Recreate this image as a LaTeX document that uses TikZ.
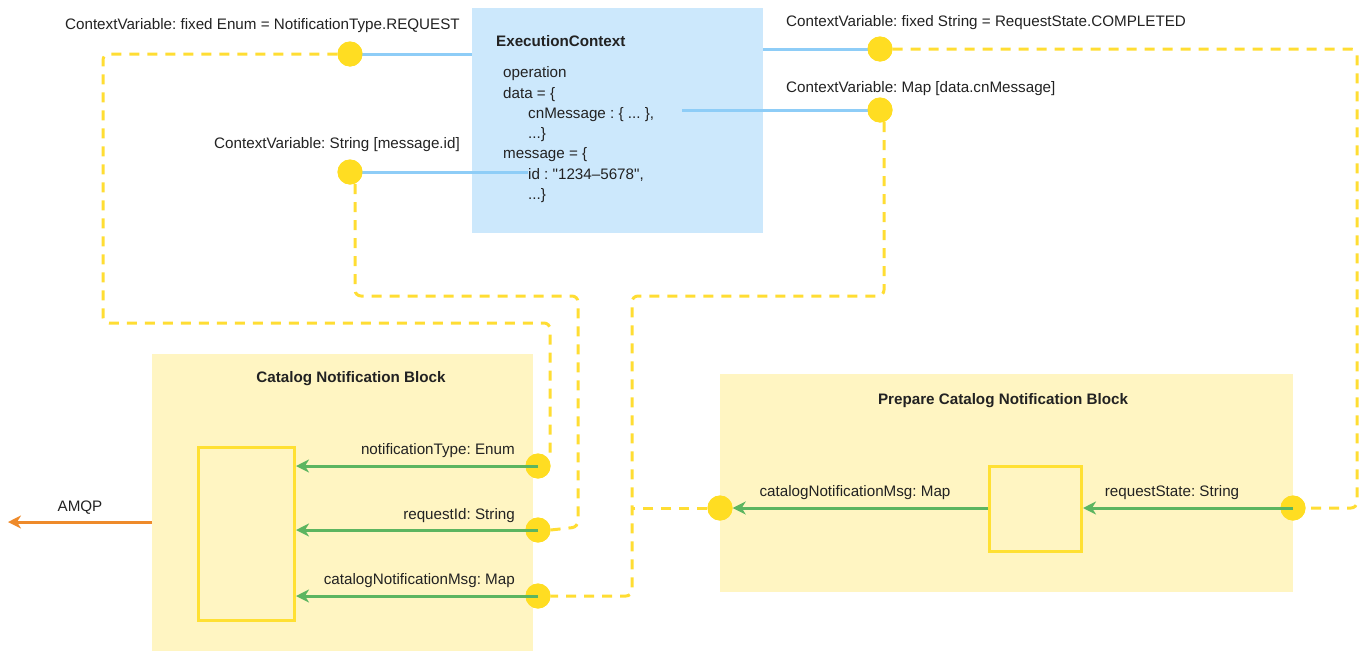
\documentclass[tikz,border=0pt]{standalone}
\usepackage{fontspec}
\setmainfont{Liberation Sans}[Ligatures=TeXOff]
\usetikzlibrary{arrows.meta}
\frenchspacing
\definecolor{ecfill}{HTML}{CCE8FC}
\definecolor{ecline}{HTML}{8ECDF7}
\definecolor{dot}{HTML}{FFDD22}
\definecolor{dashc}{HTML}{FFDD33}
\definecolor{blockfill}{HTML}{FFF5C2}
\definecolor{innerline}{HTML}{FFE033}
\definecolor{grn}{HTML}{5CB560}
\definecolor{org}{HTML}{EE8A2A}
\definecolor{txt}{HTML}{222222}
\tikzset{
  lbl/.style={inner sep=0pt, text=txt, yshift=-1.5pt, font=\fontsize{15.2}{17}\selectfont},
  ttl/.style={inner sep=0pt, text=txt, yshift=-1.5pt, font=\fontsize{15.2}{17}\selectfont\bfseries},
  port/.style={circle, fill=dot, draw=none, minimum size=25pt, inner sep=0pt},
  ctxline/.style={draw=ecline, line width=3pt},
  wire/.style={draw=dashc, line width=3pt, dash pattern=on 10pt off 8pt, rounded corners=6pt},
  flow/.style={draw=grn, line width=3pt, -{Stealth[length=13pt,width=13pt,inset=4pt]}},
  block/.style={fill=blockfill, draw=none, anchor=north west, inner sep=0pt},
  innerbox/.style={fill=blockfill, draw=innerline, line width=3pt, anchor=north west, inner sep=0pt},
}
\begin{document}
\begin{tikzpicture}[x=1pt,y=-1pt]
\useasboundingbox (0,0) rectangle (1364,651);
% ExecutionContext
\node[fill=ecfill, anchor=north west, minimum width=291pt, minimum height=225pt, inner sep=0pt] (ec) at (472,8) {};
\node[ttl, anchor=west] (ectitle) at (496,40) {ExecutionContext};
\node[lbl, anchor=west] (l1) at (503,72) {operation};
\node[lbl, anchor=west] (l2) at (503,93) {data = \{};
\node[lbl, anchor=west] (l3) at (528,113) {cnMessage : \{ ... \},};
\node[lbl, anchor=west] (l4) at (528,133) {...\}};
\node[lbl, anchor=west] (l5) at (503,153) {message = \{};
\node[lbl, anchor=west] (l6) at (528,173) {id : "1234–5678",};
\node[lbl, anchor=west] (l7) at (528,194) {...\}};

% Blocks
\node[block, minimum width=381pt, minimum height=297pt] (cnb) at (152,354) {};
\node[ttl] (cnbt) at (351,377) {Catalog Notification Block};
\node[innerbox, minimum width=96pt, minimum height=173pt] (cni) at (197,446) {};

\node[block, minimum width=573pt, minimum height=218pt] (pcb) at (720,374) {};
\node[ttl] (pcbt) at (1003,399) {Prepare Catalog Notification Block};
\node[innerbox, minimum width=92pt, minimum height=85pt] (pci) at (988,465) {};

% Context variable ports
\node[port] (c1) at (350,54) {};
\node[port] (c2) at (350,172) {};
\node[port] (c3) at (880,49) {};
\node[port] (c4) at (880,110) {};
\node[lbl, anchor=east] (t1) at (460,24) {ContextVariable: fixed Enum = NotificationType.REQUEST};
\node[lbl, anchor=east] (t2) at (460,143) {ContextVariable: String [message.id]};
\node[lbl, anchor=west] (t3) at (786,21) {ContextVariable: fixed String = RequestState.COMPLETED};
\node[lbl, anchor=west] (t4) at (786,87) {ContextVariable: Map [data.cnMessage]};

% Block ports
\node[port] (pn) at (538,466) {};
\node[port] (pr) at (538,530) {};
\node[port] (pm) at (538,596) {};
\node[port] (po) at (720,508) {};
\node[port] (ps) at (1293,508) {};

% Context lines
\coordinate (ecW1) at (c1 -| ec.west);
\coordinate (ecE3) at (c3 -| ec.east);
\coordinate (cnEnd) at (682,110);
\coordinate (idEnd) at (528,172);
\draw[ctxline] (c1.center) -- (ecW1);
\draw[ctxline] (c2.center) -- (idEnd);
\draw[ctxline] (c3.center) -- (ecE3);
\draw[ctxline] (c4.center) -- (cnEnd);

% Dashed wires
\draw[wire] (c1.west) -- (103,54) -- (103,323) -- (550,323) -- (550,455);
\draw[wire] (355,184) -- (355,296) -- (578,296) -- (578,527) -- (pr.east);
\draw[wire] (884,122) -- (884,296) -- (632,296) -- (632,596) -- (pm.east);
\draw[wire] (po.west) -- (632,508);
\draw[wire] (c3.east) -- (1357,49) -- (1357,508) -- (ps.east);

% Redraw ports on top
\foreach \p in {c1,c2,c3,c4,pn,pr,pm,po,ps} \fill[dot] (\p) circle (12.5pt);

% Green flows
\draw[flow] (pn.center) -- (pn -| cni.east);
\draw[flow] (pr.center) -- (pr -| cni.east);
\draw[flow] (pm.center) -- (pm -| cni.east);
\draw[flow] (ps.center) -- (ps -| pci.east);
\draw[flow] (po -| pci.west) -- (po.east);
\node[lbl, anchor=east] (fn) at (515,449) {notificationType: Enum};
\node[lbl, anchor=east] (fr) at (515,514) {requestId: String};
\node[lbl, anchor=east] (fm) at (515,579) {catalogNotificationMsg: Map};
\node[lbl] (fo) at (855,491) {catalogNotificationMsg: Map};
\node[lbl] (fs) at (1172,491) {requestState: String};

% AMQP
\coordinate (amqpEnd) at (8,522);
\draw[draw=org, line width=3pt, -{Stealth[length=13pt,width=13pt,inset=4pt]}] (cnb.west |- 0,522) -- (amqpEnd);
\node[lbl] (amqp) at (80,506) {AMQP};
\end{tikzpicture}
\end{document}
